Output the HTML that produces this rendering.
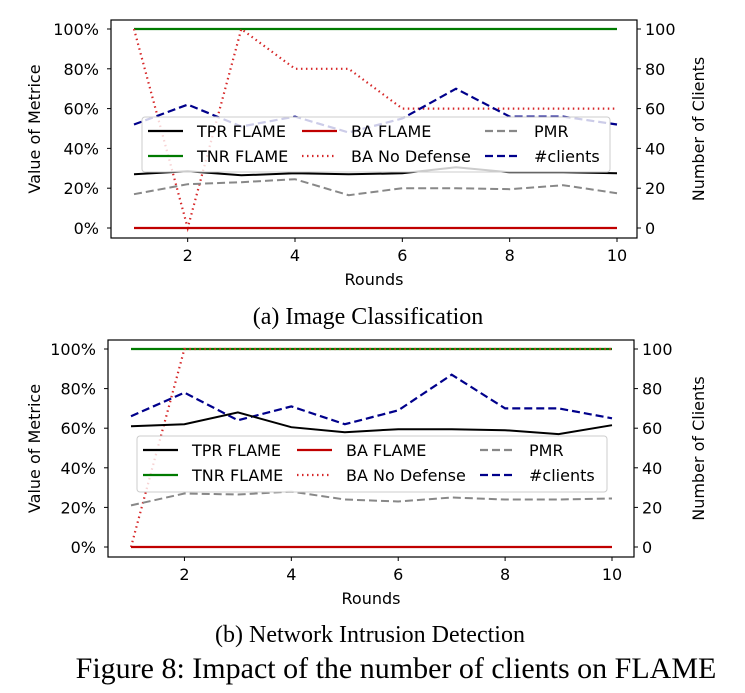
<!DOCTYPE html>
<html><head><meta charset="utf-8"><style>
body{margin:0;background:#fff;}
svg{display:block;font-family:"DejaVu Sans","Liberation Sans",sans-serif;}
.cap{font-family:"Liberation Serif",serif;}
</style></head><body>
<svg id="s" width="745" height="693" viewBox="0 0 745 693">
<text class="cap" x="368" y="324" font-size="24" text-anchor="middle">(a) Image Classification</text>
<text class="cap" x="370" y="642" font-size="24" text-anchor="middle">(b) Network Intrusion Detection</text>
<text class="cap" x="396" y="678" font-size="30" text-anchor="middle">Figure 8: Impact of the number of clients on FLAME</text>
</svg>
<script>
const rounds=[1,2,3,4,5,6,7,8,9,10];
const pctTicks=[0,20,40,60,80,100];
const xTicks=[2,4,6,8,10];
const aTPR=[27,28.5,26.5,27.5,27,27.5,30.5,28,28,27.5];
const aTNR=[100,100,100,100,100,100,100,100,100,100];
const aBA=[0,0,0,0,0,0,0,0,0,0];
const aBAND=[100,0,100,80,80,60,60,60,60,60];
const aPMR=[17,22,23,24.5,16.5,20,20,19.5,21.5,17.5];
const aClients=[52,62,51,56,48,55,70,56,56,52];
const bTPR=[61,62,68,60.5,58,59.5,59.5,59,57,61.5];
const bTNR=[100,100,100,100,100,100,100,100,100,100];
const bBA=[0,0,0,0,0,0,0,0,0,0];
const bBAND=[0,100,100,100,100,100,100,100,100,100];
const bPMR=[21,27,26.5,28,24,23,25,24,24,24.5];
const bClients=[66,78,64,71,62,69,87,70,70,65];

const NS="http://www.w3.org/2000/svg";
const svg=document.getElementById('s');
function mk(tag,attrs,parent){const e=document.createElementNS(NS,tag);for(const k in attrs)e.setAttribute(k,attrs[k]);(parent||svg).appendChild(e);return e;}

function chart(id,box,x1,x10,y0,y100,leg,d){
  const g=mk('g',{});
  
  
  const X=v=>x1+(v-1)*(x10-x1)/9;
  const Y=v=>y0-v*(y0-y100)/100;
  const series=[
    [d.tnr,'#007a00','none','2.2','tnr-flame-line'],
    [d.band,'#d62728','1.5,3.5','2.2','ba-no-defense-line'],
    [d.clients,'#00008b','8,4','2.2','clients-line'],
    [d.tpr,'#000','none','2','tpr-flame-line'],
    [d.pmr,'#888','8,4','2','pmr-line'],
    [d.ba,'#c00000','none','2.2','ba-flame-line']
  ];
  series.forEach(s=>{
    const p=rounds.map((r,i)=>X(r).toFixed(1)+','+Y(s[0][i]).toFixed(1)).join(' ');
    const l=mk('polyline',{points:p,fill:'none',stroke:s[1],'stroke-width':s[3],'stroke-dasharray':s[2]},g);
    
    
  });
  const lg=mk('g',{},g);
  
  
  mk('rect',{x:leg[0],y:leg[1],width:leg[2],height:leg[3],rx:3,fill:'#fff','fill-opacity':0.8,stroke:'#ccc'},lg);
  const items=[['TPR FLAME','#000','none'],['TNR FLAME','#007a00','none'],['BA FLAME','#c00000','none'],['BA No Defense','#d62728','1.5,3.5'],['PMR','#888','8,4'],['#clients','#00008b','8,4']];
  const colx=[leg[0]+6,leg[0]+160,leg[0]+343];
  items.forEach((it,i)=>{
    const cx=colx[Math.floor(i/2)], cy=leg[1]+14+(i%2)*25;
    const e=mk('g',{},lg);
    
    
    mk('line',{x1:cx,x2:cx+35,y1:cy,y2:cy,stroke:it[1],'stroke-width':2.2,'stroke-dasharray':it[2]},e);
    const t=mk('text',{x:cx+49,y:cy+6,'font-size':16},e);t.textContent=it[0];
  });
  const f=mk('rect',{x:box[0],y:box[1],width:box[2]-box[0],height:box[3]-box[1],fill:'none',stroke:'#000','stroke-width':1.2},g);
  
  
  pctTicks.forEach(v=>{
    const y=Y(v);
    mk('line',{x1:box[0]-4,x2:box[0],y1:y,y2:y,stroke:'#000'},g);
    mk('line',{x1:box[2],x2:box[2]+4,y1:y,y2:y,stroke:'#000'},g);
    const t=mk('text',{x:box[0]-12,y:y+6,'font-size':16,'text-anchor':'end'},g);t.textContent=v+'%';
    
    
    const t2=mk('text',{x:box[2]+8,y:y+6,'font-size':16},g);t2.textContent=v;
    
    
  });
  xTicks.forEach(v=>{
    const x=X(v);
    mk('line',{x1:x,x2:x,y1:box[3],y2:box[3]+4,stroke:'#000'},g);
    const t=mk('text',{x:x,y:box[3]+23,'font-size':16,'text-anchor':'middle'},g);t.textContent=v;
    
    
  });
  const xl=mk('text',{x:(box[0]+box[2])/2,y:box[3]+47,'font-size':16,'text-anchor':'middle'},g);xl.textContent='Rounds';
  
  
  const my=(box[1]+box[3])/2;
  const yl=mk('text',{x:40,y:my,'font-size':16,'text-anchor':'middle',transform:`rotate(-90 40 ${my})`},g);yl.textContent='Value of Metrice';
  
  
  const yr=mk('text',{x:704,y:my,'font-size':16,'text-anchor':'middle',transform:`rotate(-90 704 ${my})`},g);yr.textContent='Number of Clients';
  
  
}
chart('chart-image-classification',[111,20,637,238],134,617,228,29,[142,117,468,55],
  {tpr:aTPR,tnr:aTNR,ba:aBA,band:aBAND,pmr:aPMR,clients:aClients});
chart('chart-network-intrusion',[108,340,634,557],131,612,547,349,[137,436,470,56],
  {tpr:bTPR,tnr:bTNR,ba:bBA,band:bBAND,pmr:bPMR,clients:bClients});
</script>
</body></html>
